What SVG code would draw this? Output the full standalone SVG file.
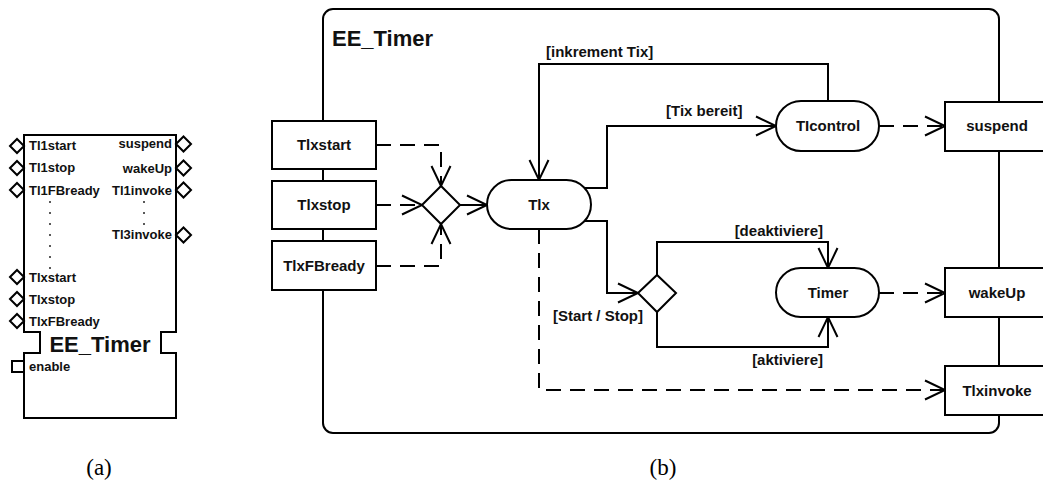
<svg xmlns="http://www.w3.org/2000/svg" width="1043" height="481" viewBox="0 0 1043 481">
<style>
.ln{fill:none;stroke:#000;stroke-width:2}
.sh{fill:#fff;stroke:#000;stroke-width:2}
.d{stroke-dasharray:15 9}
.t{font-family:"Liberation Sans",Arial,sans-serif;font-weight:bold;font-size:15px;fill:#111}
.s{font-family:"Liberation Sans",Arial,sans-serif;font-weight:bold;font-size:13px;fill:#111}
.c{text-anchor:middle}
.e{text-anchor:end}
.cap{font-family:"Liberation Serif","Times New Roman",serif;font-size:23px;text-anchor:middle;fill:#000}
</style>
<defs>
<marker id="ar" markerUnits="userSpaceOnUse" markerWidth="26" markerHeight="26" viewBox="-23 -13 26 26" refX="0" refY="0" orient="auto" overflow="visible">
<path d="M-20,-9.5 L0,0 L-20,9.5" fill="none" stroke="#000" stroke-width="2" stroke-dasharray="none"/>
</marker>
</defs>

<!-- (a) block -->
<g id="blockA">
<path class="sh" d="M24,135 H176 V332 H161 V353 H176 V418 H24 V353 H40 V332 H24 Z"/>
<g class="sh">
<path d="M10,146 L17,139 L24,146 L17,153 Z"/>
<path d="M10,168 L17,161 L24,168 L17,175 Z"/>
<path d="M10,190 L17,183 L24,190 L17,197 Z"/>
<path d="M10,277 L17,270 L24,277 L17,284 Z"/>
<path d="M10,299 L17,292 L24,299 L17,306 Z"/>
<path d="M10,321 L17,314 L24,321 L17,328 Z"/>
<path d="M176,144 L183.5,136.5 L191,144 L183.5,151.5 Z"/>
<path d="M176,168 L183.5,160.5 L191,168 L183.5,175.5 Z"/>
<path d="M176,190 L183.5,182.5 L191,190 L183.5,197.5 Z"/>
<path d="M176,235 L183.5,227.5 L191,235 L183.5,242.5 Z"/>
<rect x="12" y="361" width="12" height="11"/>
</g>
<g fill="#222">
<circle cx="50" cy="202" r="1"/><circle cx="50" cy="213" r="1"/><circle cx="50" cy="224" r="1"/><circle cx="50" cy="235" r="1"/><circle cx="50" cy="246" r="1"/><circle cx="50" cy="257" r="1"/><circle cx="50" cy="268" r="1"/>
<circle cx="144" cy="202" r="1"/><circle cx="144" cy="213" r="1"/><circle cx="144" cy="224" r="1"/>
</g>
<text class="s" x="29" y="150">Tl1start</text>
<text class="s" x="29" y="172">Tl1stop</text>
<text class="s" x="29" y="195">Tl1FBready</text>
<text class="s" x="29" y="282">Tlxstart</text>
<text class="s" x="29" y="304">Tlxstop</text>
<text class="s" x="29" y="326">TlxFBready</text>
<text class="s" x="29" y="371">enable</text>
<text class="s e" x="172" y="148">suspend</text>
<text class="s e" x="172" y="173">wakeUp</text>
<text class="s e" x="172" y="195">Tl1invoke</text>
<text class="s e" x="172" y="239">Tl3invoke</text>
<text class="s c" x="100" y="352" style="font-size:22px">EE_Timer</text>
</g>

<!-- (b) frame -->
<g id="frame">
<rect class="ln" x="323" y="9" width="676" height="424" rx="10"/>
<text class="t" x="332" y="46" style="font-size:22px">EE_Timer</text>
</g>

<!-- connectors -->
<g id="connectors" class="ln">
<path class="d" d="M376,145 H441 V186" marker-end="url(#ar)"/>
<path class="d" d="M376,205 H422" marker-end="url(#ar)"/>
<path class="d" d="M376,266 H441 V224" marker-end="url(#ar)"/>
<path d="M460,205 H487" marker-end="url(#ar)"/>
<path d="M584.6,188 H607 V126 H776" marker-end="url(#ar)"/>
<path d="M828,101 V64 H539 V180" marker-end="url(#ar)"/>
<path class="d" d="M879,126 H945" marker-end="url(#ar)"/>
<path d="M584.6,221 H607 V293 H638" marker-end="url(#ar)"/>
<path d="M657,275 V242 H828 V268" marker-end="url(#ar)"/>
<path d="M657,312 V347 H828 V317" marker-end="url(#ar)"/>
<path class="d" d="M879,293 H945" marker-end="url(#ar)"/>
<path class="d" d="M539,229 V390 H945" marker-end="url(#ar)"/>
</g>
<g id="labels">
<text class="t" x="546" y="57">[inkrement Tix]</text>
<text class="t" x="666" y="116">[Tix bereit]</text>
<text class="t e" x="823" y="236">[deaktiviere]</text>
<text class="t e" x="823" y="365">[aktiviere]</text>
<text class="t" x="553" y="321">[Start / Stop]</text>
</g>

<!-- nodes -->
<g id="Tlxstart"><rect class="sh" x="272" y="121" width="104" height="48"/><text class="t c" x="324" y="150">Tlxstart</text></g>
<g id="Tlxstop"><rect class="sh" x="272" y="181" width="104" height="48"/><text class="t c" x="324" y="210">Tlxstop</text></g>
<g id="TlxFBready"><rect class="sh" x="272" y="241" width="104" height="49"/><text class="t c" x="324" y="271">TlxFBready</text></g>
<g id="merge"><path class="sh" d="M422,205 L441,186 L460,205 L441,224 Z"/></g>
<g id="Tlx"><rect class="sh" x="487" y="180" width="104" height="49" rx="24.5"/><text class="t c" x="539" y="210">Tlx</text></g>
<g id="TIcontrol"><rect class="sh" x="776" y="101" width="103" height="50" rx="25"/><text class="t c" x="828" y="131">TIcontrol</text></g>
<g id="decision"><path class="sh" d="M638,293 L657,275 L676,293 L657,312 Z"/></g>
<g id="Timer"><rect class="sh" x="776" y="268" width="103" height="49" rx="24.5"/><text class="t c" x="828" y="298">Timer</text></g>
<g id="suspend"><rect class="sh" x="945" y="102" width="104" height="49"/><text class="t c" x="997" y="131">suspend</text></g>
<g id="wakeUp"><rect class="sh" x="945" y="268" width="104" height="49"/><text class="t c" x="997" y="298">wakeUp</text></g>
<g id="Tlxinvoke"><rect class="sh" x="945" y="366" width="104" height="49"/><text class="t c" x="997" y="396">Tlxinvoke</text></g>

<g id="captions">
<text class="cap" x="99" y="475">(a)</text>
<text class="cap" x="663" y="475">(b)</text>
</g>
</svg>
